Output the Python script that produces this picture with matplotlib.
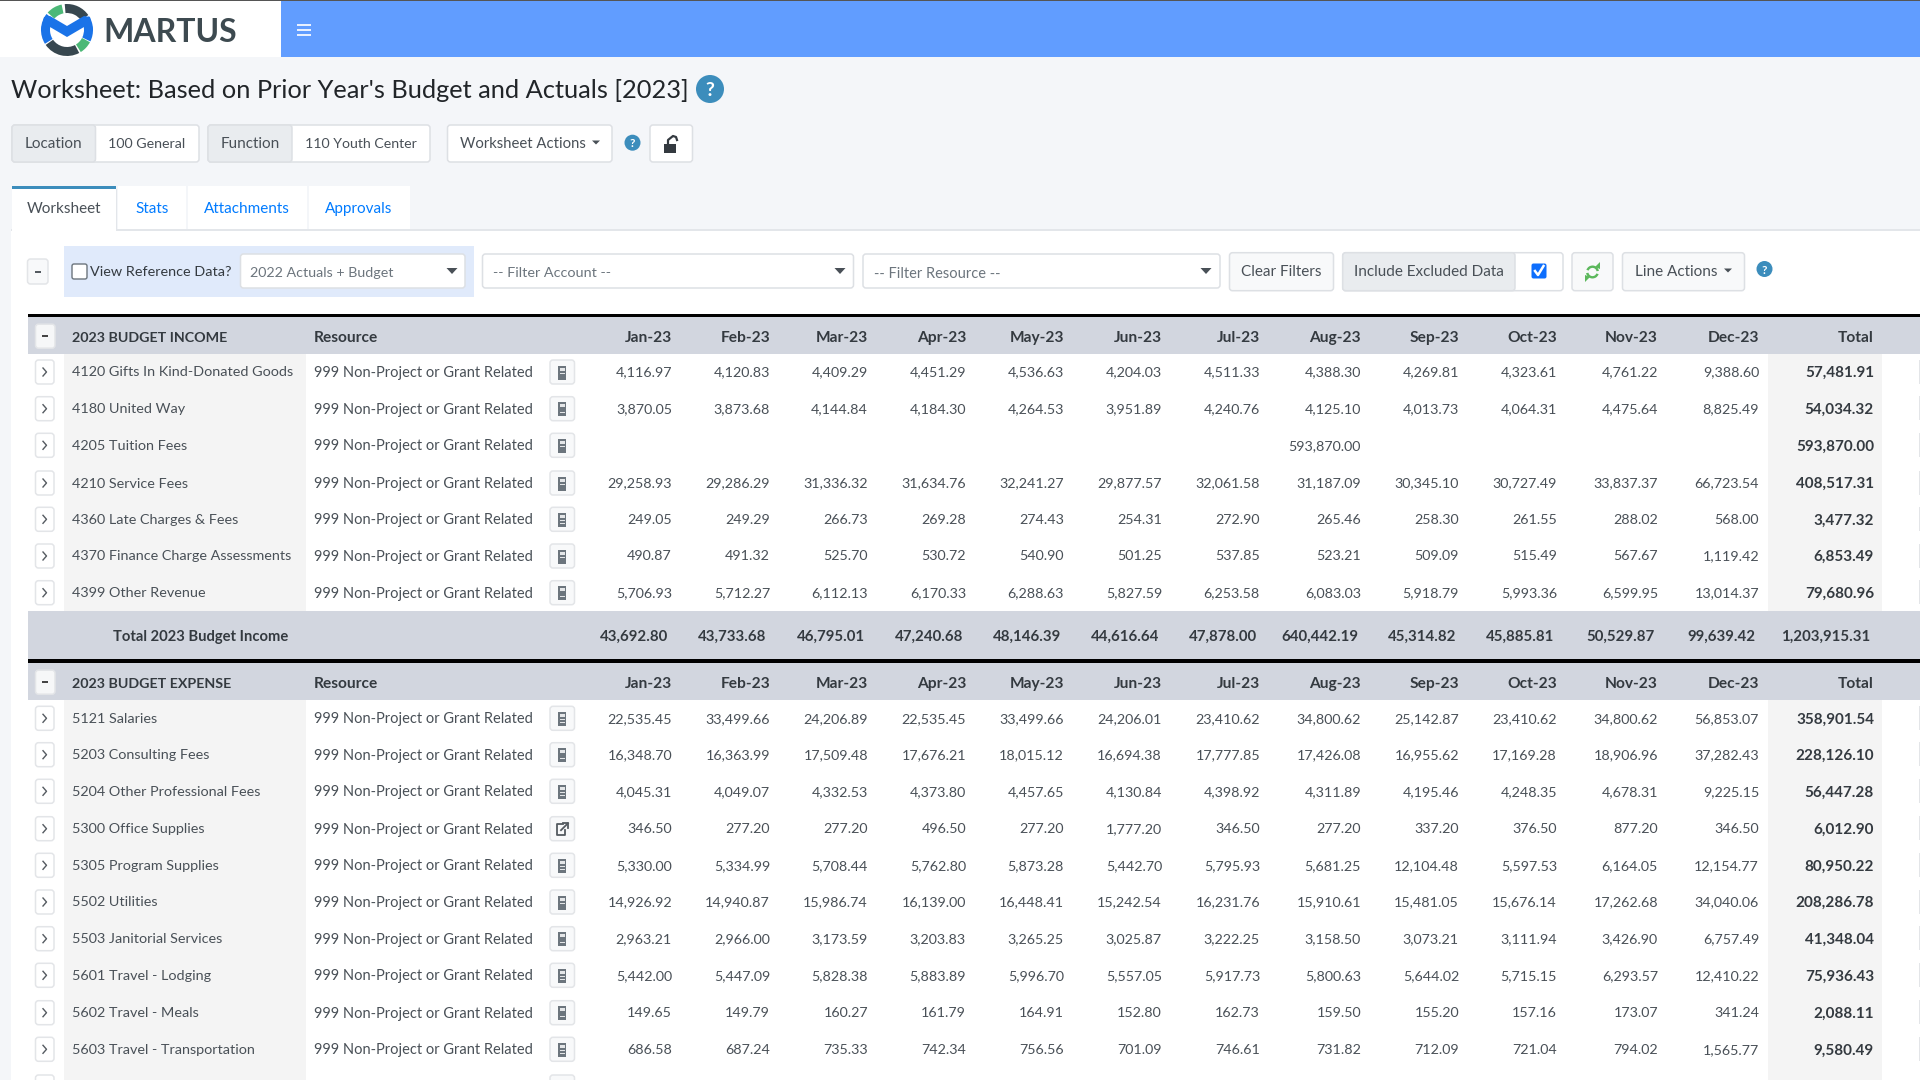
import matplotlib
matplotlib.use('Agg')
import matplotlib.pyplot as plt
from matplotlib.patches import Rectangle, FancyBboxPatch, Circle, Wedge, Polygon

plt.rcParams['font.family'] = ['Lato', 'DejaVu Sans']

months = ['Jan-23', 'Feb-23', 'Mar-23', 'Apr-23', 'May-23', 'Jun-23', 'Jul-23',
          'Aug-23', 'Sep-23', 'Oct-23', 'Nov-23', 'Dec-23', 'Total']
resource = '999 Non-Project or Grant Related'

income_accounts = ['4120 Gifts In Kind-Donated Goods', '4180 United Way', '4205 Tuition Fees',
                   '4210 Service Fees', '4360 Late Charges & Fees',
                   '4370 Finance Charge Assessments', '4399 Other Revenue']
income_values = [
    ['4,116.97', '4,120.83', '4,409.29', '4,451.29', '4,536.63', '4,204.03', '4,511.33', '4,388.30', '4,269.81', '4,323.61', '4,761.22', '9,388.60', '57,481.91'],
    ['3,870.05', '3,873.68', '4,144.84', '4,184.30', '4,264.53', '3,951.89', '4,240.76', '4,125.10', '4,013.73', '4,064.31', '4,475.64', '8,825.49', '54,034.32'],
    ['', '', '', '', '', '', '', '593,870.00', '', '', '', '', '593,870.00'],
    ['29,258.93', '29,286.29', '31,336.32', '31,634.76', '32,241.27', '29,877.57', '32,061.58', '31,187.09', '30,345.10', '30,727.49', '33,837.37', '66,723.54', '408,517.31'],
    ['249.05', '249.29', '266.73', '269.28', '274.43', '254.31', '272.90', '265.46', '258.30', '261.55', '288.02', '568.00', '3,477.32'],
    ['490.87', '491.32', '525.70', '530.72', '540.90', '501.25', '537.85', '523.21', '509.09', '515.49', '567.67', '1,119.42', '6,853.49'],
    ['5,706.93', '5,712.27', '6,112.13', '6,170.33', '6,288.63', '5,827.59', '6,253.58', '6,083.03', '5,918.79', '5,993.36', '6,599.95', '13,014.37', '79,680.96'],
]
income_totals = ['43,692.80', '43,733.68', '46,795.01', '47,240.68', '48,146.39', '44,616.64', '47,878.00',
                 '640,442.19', '45,314.82', '45,885.81', '50,529.87', '99,639.42', '1,203,915.31']

expense_accounts = ['5121 Salaries', '5203 Consulting Fees', '5204 Other Professional Fees',
                    '5300 Office Supplies', '5305 Program Supplies', '5502 Utilities',
                    '5503 Janitorial Services', '5601 Travel - Lodging', '5602 Travel - Meals',
                    '5603 Travel - Transportation']
expense_values = [
    ['22,535.45', '33,499.66', '24,206.89', '22,535.45', '33,499.66', '24,206.01', '23,410.62', '34,800.62', '25,142.87', '23,410.62', '34,800.62', '56,853.07', '358,901.54'],
    ['16,348.70', '16,363.99', '17,509.48', '17,676.21', '18,015.12', '16,694.38', '17,777.85', '17,426.08', '16,955.62', '17,169.28', '18,906.96', '37,282.43', '228,126.10'],
    ['4,045.31', '4,049.07', '4,332.53', '4,373.80', '4,457.65', '4,130.84', '4,398.92', '4,311.89', '4,195.46', '4,248.35', '4,678.31', '9,225.15', '56,447.28'],
    ['346.50', '277.20', '277.20', '496.50', '277.20', '1,777.20', '346.50', '277.20', '337.20', '376.50', '877.20', '346.50', '6,012.90'],
    ['5,330.00', '5,334.99', '5,708.44', '5,762.80', '5,873.28', '5,442.70', '5,795.93', '5,681.25', '12,104.48', '5,597.53', '6,164.05', '12,154.77', '80,950.22'],
    ['14,926.92', '14,940.87', '15,986.74', '16,139.00', '16,448.41', '15,242.54', '16,231.76', '15,910.61', '15,481.05', '15,676.14', '17,262.68', '34,040.06', '208,286.78'],
    ['2,963.21', '2,966.00', '3,173.59', '3,203.83', '3,265.25', '3,025.87', '3,222.25', '3,158.50', '3,073.21', '3,111.94', '3,426.90', '6,757.49', '41,348.04'],
    ['5,442.00', '5,447.09', '5,828.38', '5,883.89', '5,996.70', '5,557.05', '5,917.73', '5,800.63', '5,644.02', '5,715.15', '6,293.57', '12,410.22', '75,936.43'],
    ['149.65', '149.79', '160.27', '161.79', '164.91', '152.80', '162.73', '159.50', '155.20', '157.16', '173.07', '341.24', '2,088.11'],
    ['686.58', '687.24', '735.33', '742.34', '756.56', '701.09', '746.61', '731.82', '712.09', '721.04', '794.02', '1,565.77', '9,580.49'],
]

# layout, in pixels of the 1920x1080 picture
col_right = [672, 770, 868, 966, 1064, 1162, 1260, 1361, 1459, 1557, 1658, 1759, 1874]
total_right = [668.5, 766.5, 865, 963.5, 1061, 1159, 1257, 1358, 1456, 1554, 1655, 1756, 1870]
income_y = [371.5, 408.2, 444.8, 482.5, 518.8, 555.5, 592.2]
expense_y = [717.8, 754.2, 790.8, 828.2, 864.8, 901.5, 938.2, 974.8, 1012.2, 1048.8]

TEXT = '#495057'
DARK = '#343a40'
BAND = '#d2d6df'
LIGHT = '#f4f4f4'
BORDER = '#dde0e4'
BLUE = '#007bff'
HELP = '#3c8dbc'

fig = plt.figure(figsize=(19.2, 10.8), dpi=100, facecolor='#f4f6f9')
ax = fig.add_axes([0, 0, 1, 1])
ax.set_xlim(0, 1920)
ax.set_ylim(1080, 0)
ax.axis('off')


def rect(x0, y0, x1, y1, color, z=1):
    ax.add_patch(Rectangle((x0, y0), x1 - x0, y1 - y0, fc=color, ec='none', zorder=z))


def button(x0, y0, x1, y1, fc='white', ec=BORDER, z=3):
    ax.add_patch(FancyBboxPatch((x0 + 2, y0 + 2), x1 - x0 - 4, y1 - y0 - 4,
                                boxstyle='round,pad=2,rounding_size=3',
                                fc=fc, ec=ec, lw=1.1, zorder=z))


def label(x, y, s, size=10.5, color=TEXT, ha='left', weight='normal', z=6):
    ax.text(x, y, s, fontsize=size, color=color, ha=ha, va='center_baseline',
            fontweight=weight, zorder=z)


def caret(x, y, w=4, h=4, color=TEXT):
    ax.add_patch(Polygon([(x - w, y - h / 2), (x + w, y - h / 2), (x, y + h / 2)],
                         fc=color, ec='none', zorder=6))


def help_dot(x, y, r, size):
    ax.add_patch(Circle((x, y), r, fc=HELP, ec='none', zorder=5))
    label(x, y, '?', size=size, color='white', ha='center', weight='bold')


def calc_icon(x, y):
    rect(x - 4, y - 7, x + 4, y + 7, '#6c757d', 6)
    rect(x - 2.5, y - 5, x + 2.5, y - 2, '#e4e6e8', 7)
    rect(x - 2.5, y + 0.5, x + 2.5, y + 1.2, '#e4e6e8', 7)
    rect(x - 2.5, y + 3, x + 2.5, y + 3.7, '#e4e6e8', 7)


def external_icon(x, y):
    ax.plot([x + 1, x - 5, x - 5, x + 3, x + 3], [y - 5, y - 5, y + 6, y + 6, y + 1],
            color='#555b61', lw=1.3, zorder=6)
    ax.plot([x - 1, x + 6], [y + 1, y - 6], color='#555b61', lw=1.3, zorder=6)
    ax.plot([x + 1, x + 6, x + 6], [y - 6, y - 6, y - 1], color='#555b61', lw=1.3, zorder=6)


def expand_button(y):
    button(35.5, y - 11.5, 54, y + 12.5, fc='white', ec='#e3e5e8')
    ax.plot([43, 46.5, 43], [y - 3.5, y + 0.5, y + 4.5], color='#555b61', lw=1, zorder=6)


def section_header(y, title):
    rect(27.5, y - 20, 1920, y + 17.5, BAND, 2)
    button(35.5, y - 12, 55, y + 12, fc='#f6f7f8', ec='#e3e5e8')
    rect(42, y - 0.8, 48, y + 0.8, '#444444', 6)
    label(71.5, y + 0.5, title, size=10.3, weight='bold', color=DARK)
    label(314, y, 'Resource', size=11.2, weight='bold', color=DARK)
    for r, m in zip(col_right, months):
        label(r, y, m, size=11.2, ha='right', weight='bold', color=DARK)


def data_rows(ys, accounts, values, external=()):
    for i, (y, acct, vals) in enumerate(zip(ys, accounts, values)):
        expand_button(y)
        label(71.5, y, acct, size=10.35)
        label(314, y, resource)
        button(550, y - 11.5, 574.5, y + 12.5, fc='#f8f9fa', ec='#e3e5e8')
        if i in external:
            external_icon(562, y + 1)
        else:
            calc_icon(562, y + 1)
        for j, (r, v) in enumerate(zip(col_right, vals)):
            if j == 12:
                label(r, y, v, size=11, ha='right', weight='bold', color=DARK)
            else:
                label(r, y, v, size=10.3, ha='right')
        rect(1919, y - 12, 1920, y + 12, '#e3e5e8', 3)


# page background and navbar
rect(0, 0, 281, 57, 'white')
rect(281, 0, 1920, 57, '#619dff')
rect(0, 0, 1920, 1, '#555555', 2)
for y in (25, 30, 35):
    rect(297, y - 1, 311, y + 1, '#e8f0ff', 3)

# logo
cx, cy = 67, 30
for a0, a1, col in [(62, 145, '#37474f'), (28, 58, '#4cb877'), (222, 258, '#4cb877'),
                    (265, 325, '#37474f'), (148, 218, '#1a73e8'), (-32, 26, '#1a73e8')]:
    ax.add_patch(Wedge((cx, cy), 26, a0, a1, width=9, fc=col, ec='none', zorder=3))
ax.add_patch(Polygon([(44, 17), (50, 16), (67, 26), (84, 16), (90, 17), (93, 30), (85, 36),
                      (84, 27), (67, 37), (50, 27), (49, 36), (41, 30)],
                     fc='#1a73e8', ec='none', zorder=4))
label(103, 30, 'MARTUS', size=23, color='#3d4a50', weight='bold')

# title row
label(11, 89, "Worksheet: Based on Prior Year's Budget and Actuals [2023]", size=18.3, color='#212529')
help_dot(710, 89, 14, 14)

# location and function selectors
button(12, 125, 199, 162)
button(12, 125, 95.5, 162, fc='#e9ecef')
label(24.5, 143, 'Location', size=11)
label(108, 143, '100 General', size=10.3)
button(208, 125, 430, 162)
button(208, 125, 292, 162, fc='#e9ecef')
label(221, 143, 'Function', size=11)
label(305, 143, '110 Youth Center', size=10.2)
button(447.5, 125, 612, 162)
label(460, 143, 'Worksheet Actions', size=10.7)
caret(596, 142.5)
help_dot(632.5, 142.7, 8, 8.5)
button(650, 125, 692.5, 162)
rect(664, 144, 676, 153, '#343a40', 6)
ax.plot([668, 668, 673, 676, 677], [144, 140, 136, 137, 140], color='#343a40', lw=1.6, zorder=6)

# tabs and content panel
rect(11.4, 229, 1920, 1080, 'white')
rect(11.4, 229, 1920, 230.5, '#e3e6ea', 2)
rect(12, 186, 116, 231, 'white', 3)
rect(12, 186, 116, 188.5, HELP, 4)
rect(116, 189, 117, 229, '#e3e6ea', 3)
rect(117.5, 186, 186, 229, 'white', 3)
rect(188, 186, 307, 229, 'white', 3)
rect(309, 186, 410, 229, 'white', 3)
label(64, 207.5, 'Worksheet', size=11, ha='center')
label(152, 207.5, 'Stats', size=11, ha='center', color=BLUE)
label(247, 207.5, 'Attachments', size=11, ha='center', color=BLUE)
label(359, 207.5, 'Approvals', size=11, ha='center', color=BLUE)

# filter row
button(27.5, 259, 48, 284, fc='#f8f9fa', ec='#e3e5e8')
rect(34.5, 271, 41, 272.6, '#555b61', 6)
rect(64, 245.7, 474, 296.7, '#e0eafb')
ax.add_patch(FancyBboxPatch((73, 265), 13, 13, boxstyle='round,pad=1,rounding_size=2',
                            fc='white', ec='#6c757d', lw=1, zorder=5))
label(90.5, 271, 'View Reference Data?', size=10.4, color='#343a40')
button(240.5, 254, 465, 288)
label(250, 272, '2022 Actuals + Budget', size=10.3, color='#6c757d')
caret(452, 271, 5.5, 6, '#495057')
button(482.5, 254, 853.5, 288)
label(493, 272, '-- Filter Account --', size=10.4, color='#6c757d')
caret(840, 271, 5.5, 6, '#495057')
button(863, 254, 1220, 288)
label(874, 272, '-- Filter Resource --', size=10.5, color='#6c757d')
caret(1206, 271, 5.5, 6, '#495057')
button(1229.5, 252.7, 1333.5, 290.7, fc='#f8f9fa')
label(1281.5, 271, 'Clear Filters', size=11, ha='center')
button(1342.7, 252.7, 1563, 290.7)
button(1342.7, 252.7, 1515, 290.7, fc='#e9ecef')
label(1428.5, 271, 'Include Excluded Data', size=11, ha='center')
ax.add_patch(FancyBboxPatch((1533, 265), 12, 12, boxstyle='round,pad=1.5,rounding_size=2',
                            fc='#0d6efd', ec='none', zorder=5))
ax.plot([1535, 1538, 1543.5], [271, 275, 266], color='white', lw=1.8, zorder=6)
button(1572, 252.7, 1613, 290.7, fc='#f8f9fa')
ax.add_patch(Wedge((1592.5, 272), 6.5, 20, 170, width=2.4, fc='#5cb85c', ec='none', zorder=6))
ax.add_patch(Wedge((1592.5, 272), 6.5, 200, 350, width=2.4, fc='#5cb85c', ec='none', zorder=6))
ax.add_patch(Polygon([(1595, 267), (1600, 262), (1600, 269)], fc='#5cb85c', ec='none', zorder=6))
ax.add_patch(Polygon([(1590, 277), (1585, 282), (1585, 275)], fc='#5cb85c', ec='none', zorder=6))
button(1622.5, 252.7, 1744.5, 290.7, fc='#f8f9fa')
label(1635, 271, 'Line Actions', size=11)
caret(1728, 270.5)
help_dot(1764.5, 269, 8, 8.5)

# grey columns behind account names and totals
rect(64, 354, 306, 1080, LIGHT)
rect(1768, 354, 1882, 1080, LIGHT)

# income block
rect(27.5, 313.5, 1920, 317, '#000000', 4)
section_header(336.2, '2023 BUDGET INCOME')
data_rows(income_y, income_accounts, income_values)

rect(27.5, 611, 1920, 659, BAND, 2)
label(113, 635.5, 'Total 2023 Budget Income', size=10.6, weight='bold', color=DARK)
for r, v in zip(total_right, income_totals):
    label(r, 635.5, v, size=10.8, ha='right', weight='bold', color=DARK)

# expense block
rect(27.5, 659, 1920, 662.5, '#000000', 4)
section_header(682.2, '2023 BUDGET EXPENSE')
data_rows(expense_y, expense_accounts, expense_values, external=(3,))

# top of the next row, cut by the bottom edge
button(35.5, 1075, 54, 1095, fc='white', ec='#e3e5e8')
button(550, 1075, 574.5, 1095, fc='#f8f9fa', ec='#e3e5e8')

fig.savefig('out.png', dpi=100, facecolor=fig.get_facecolor())
